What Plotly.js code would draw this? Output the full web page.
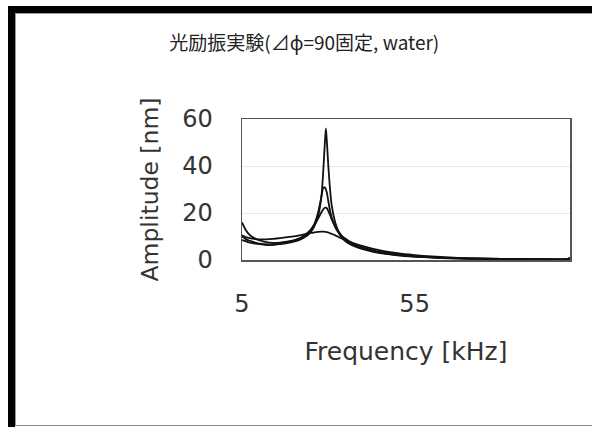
<!DOCTYPE html>
<html>
<head>
<meta charset="utf-8">
<script src="https://cdn.plot.ly/plotly-3.0.1.min.js"></script>
<style>
  html, body { margin: 0; padding: 0; background: #ffffff; }
  #wrap { position: relative; width: 592px; height: 427px; overflow: hidden; }
  #frameOuter { position: absolute; left: 8px; top: 6px; right: 0; bottom: 0;
    border-top: 7px solid #000; border-left: 7px solid #000; }
  #frameInner { position: absolute; left: 15px; top: 13px; right: 0; bottom: 1px;
    border-top: 1px solid #9a9a9a; border-left: 1px solid #9a9a9a; border-bottom: 1px solid #8a8a8a; }
  #chart { position: absolute; left: 0; top: 0; width: 592px; height: 427px; }
</style>
</head>
<body>
<div id="wrap">
  <div id="frameOuter"></div>
  <div id="frameInner"></div>
  <div id="chart"></div>
</div>
<script>
// Frequency [kHz]
const freq = [5, 6, 7, 8, 9, 10, 12, 14, 16, 18, 20, 22, 24, 25, 26, 27, 28, 28.5, 29, 29.3, 29.6, 30, 30.5, 31, 32, 33, 34, 35, 37, 40, 43, 46, 50, 55, 60, 65, 70, 80, 90, 99, 100];

// Amplitude [nm], four measurements
const ampA = [10, 9, 8.3, 7.8, 7.3, 7, 6.6, 6.5, 6.8, 7.2, 7.8, 8.8, 10.5, 12, 14.5, 18.5, 27, 37, 50, 56, 50, 40, 30, 23, 16, 12, 9.5, 8, 6.2, 4.6, 3.5, 2.7, 2, 1.4, 1, 0.7, 0.5, 0.35, 0.3, 0.3, 0.9];
const ampB = [8.5, 8, 7.5, 7.2, 7, 6.8, 6.5, 6.6, 7, 7.5, 8.2, 9.3, 11.5, 13, 15.5, 20, 27, 30.5, 31, 30, 28.5, 25, 21, 18, 14, 11.5, 9.5, 8.2, 6.5, 4.9, 3.8, 2.9, 2.1, 1.5, 1.1, 0.8, 0.6, 0.4, 0.3, 0.3, 0.6];
const ampC = [16, 13, 11, 9.8, 9, 8.4, 7.6, 7.3, 7.4, 7.8, 8.4, 9.5, 11.5, 13, 15, 17.5, 20.3, 21.5, 22.2, 22.3, 22, 20.8, 19.2, 17.3, 14.2, 12, 10.2, 9, 7.1, 5.4, 4.1, 3.2, 2.4, 1.7, 1.2, 0.9, 0.7, 0.45, 0.35, 0.3, 0.7];
const ampD = [10.5, 9.8, 9.4, 9.1, 8.9, 8.8, 8.8, 9, 9.3, 9.7, 10.1, 10.6, 11.2, 11.5, 11.8, 12, 12.1, 12.1, 12, 12, 11.9, 11.7, 11.4, 11.1, 10.5, 9.8, 9.1, 8.5, 7.3, 5.9, 4.7, 3.8, 2.9, 2.1, 1.5, 1.1, 0.8, 0.5, 0.35, 0.3, 0.6];

const xTicks = [5, 55];
const yTicks = [0, 20, 40, 60];

const titleText = '光励振実験(⊿ϕ=90固定, water)';
const xTitle = 'Frequency [kHz]';
const yTitle = 'Amplitude [nm]';

const series = [ampA, ampB, ampC, ampD];
const traces = series.map(function (ys) {
  return {
    x: freq, y: ys, type: 'scatter', mode: 'lines',
    line: { color: '#111111', width: 1.8, shape: 'spline', smoothing: 0.6 },
    hoverinfo: 'skip', showlegend: false
  };
});

const latinFam = '"DejaVu Sans", "Noto Sans CJK JP", sans-serif';
const cjkFam = '"Noto Sans CJK JP", "Noto Sans", sans-serif';

const layout = {
  width: 592, height: 427,
  margin: { l: 242, r: 22, t: 119, b: 167, pad: 0 },
  paper_bgcolor: 'rgba(0,0,0,0)',
  plot_bgcolor: '#ffffff',
  showlegend: false,
  title: {
    text: titleText,
    font: { family: cjkFam, size: 19, color: '#222222' },
    xref: 'container', yref: 'container',
    x: 0.514, xanchor: 'center', y: 0.899, yanchor: 'middle'
  },
  xaxis: {
    range: [5, 100],
    tickvals: xTicks, ticktext: xTicks.map(String),
    showgrid: false, zeroline: false,
    showline: true, mirror: true, linecolor: '#555555', linewidth: 1.5,
    ticks: '', ticklabelstandoff: 22,
    tickfont: { family: latinFam, size: 24, color: '#333333' },
    title: { text: xTitle, font: { family: latinFam, size: 25, color: '#333333' }, standoff: 25 }
  },
  yaxis: {
    range: [0, 60],
    tickvals: yTicks, ticktext: yTicks.map(String),
    showgrid: true, gridcolor: '#e8e8e8', gridwidth: 1,
    zeroline: false,
    showline: true, mirror: true, linecolor: '#555555', linewidth: 1.5,
    ticks: '', ticklabelstandoff: 23,
    tickfont: { family: latinFam, size: 24, color: '#333333' },
    title: { text: yTitle, font: { family: latinFam, size: 23.5, color: '#333333' }, standoff: 17 }
  }
};

Plotly.newPlot('chart', traces, layout, { staticPlot: true, displayModeBar: false });
</script>
</body>
</html>
